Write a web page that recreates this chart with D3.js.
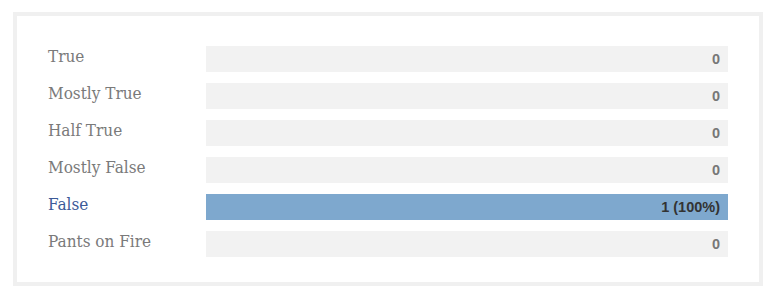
<!DOCTYPE html>
<html>
<head>
<meta charset="utf-8">
<script src="https://cdn.jsdelivr.net/npm/d3@7"></script>
<style>
  body { margin: 0; background: #fff; }
</style>
</head>
<body>
<div id="chart-area"></div>
<script>
// data
var ratings = ["True", "Mostly True", "Half True", "Mostly False", "False", "Pants on Fire"];
var counts = [0, 0, 0, 0, 1, 0];
var total = d3.sum(counts);

var W = 778, H = 297;

var svg = d3.select("#chart-area")
    .append("svg")
    .attr("width", W)
    .attr("height", H);

// frame
svg.append("rect")
    .attr("x", 15).attr("y", 14)
    .attr("width", 746).attr("height", 270)
    .attr("fill", "#fff")
    .attr("stroke", "#f0f0f0")
    .attr("stroke-width", 4);

// step 37, bar 26
var y = d3.scaleBand()
    .domain(ratings)
    .range([46, 46 + 37 * 6 - 11])
    .paddingInner(11 / 37)
    .paddingOuter(0);

var x = d3.scaleLinear()
    .domain([0, Math.max(total, 1)])
    .range([206, 728]);

var rows = svg.selectAll("g.row")
    .data(ratings)
    .enter()
    .append("g")
    .attr("class", "row");

// background track
rows.append("rect")
    .attr("x", x(0))
    .attr("y", function(d){ return y(d); })
    .attr("width", x(x.domain()[1]) - x(0))
    .attr("height", y.bandwidth())
    .attr("fill", "#f2f2f2");

// value bar
rows.append("rect")
    .attr("x", x(0))
    .attr("y", function(d){ return y(d); })
    .attr("width", function(d, i){ return x(counts[i]) - x(0); })
    .attr("height", y.bandwidth())
    .attr("fill", "#7ea8ce");

// labels
rows.append("text")
    .attr("x", 48)
    .attr("y", function(d){ return y(d) + 16; })
    .attr("font-family", "'DejaVu Serif Condensed', 'DejaVu Serif', serif")
    .style("font-stretch", "condensed")
    .attr("font-size", "17px")
    .attr("fill", function(d, i){ return counts[i] > 0 ? "#3c5a98" : "#7a7a7a"; })
    .text(function(d){ return d; });

// values
rows.append("text")
    .attr("x", 720)
    .attr("y", function(d){ return y(d) + 17.5; })
    .attr("text-anchor", "end")
    .attr("font-family", "Arial, 'Liberation Sans', sans-serif")
    .attr("font-weight", "bold")
    .attr("font-size", "14.5px")
    .attr("fill", function(d, i){ return counts[i] > 0 ? "#333" : "#777"; })
    .text(function(d, i){
        return counts[i] > 0 ? counts[i] + " (" + Math.round(counts[i] / total * 100) + "%)" : counts[i];
    });
</script>
</body>
</html>
